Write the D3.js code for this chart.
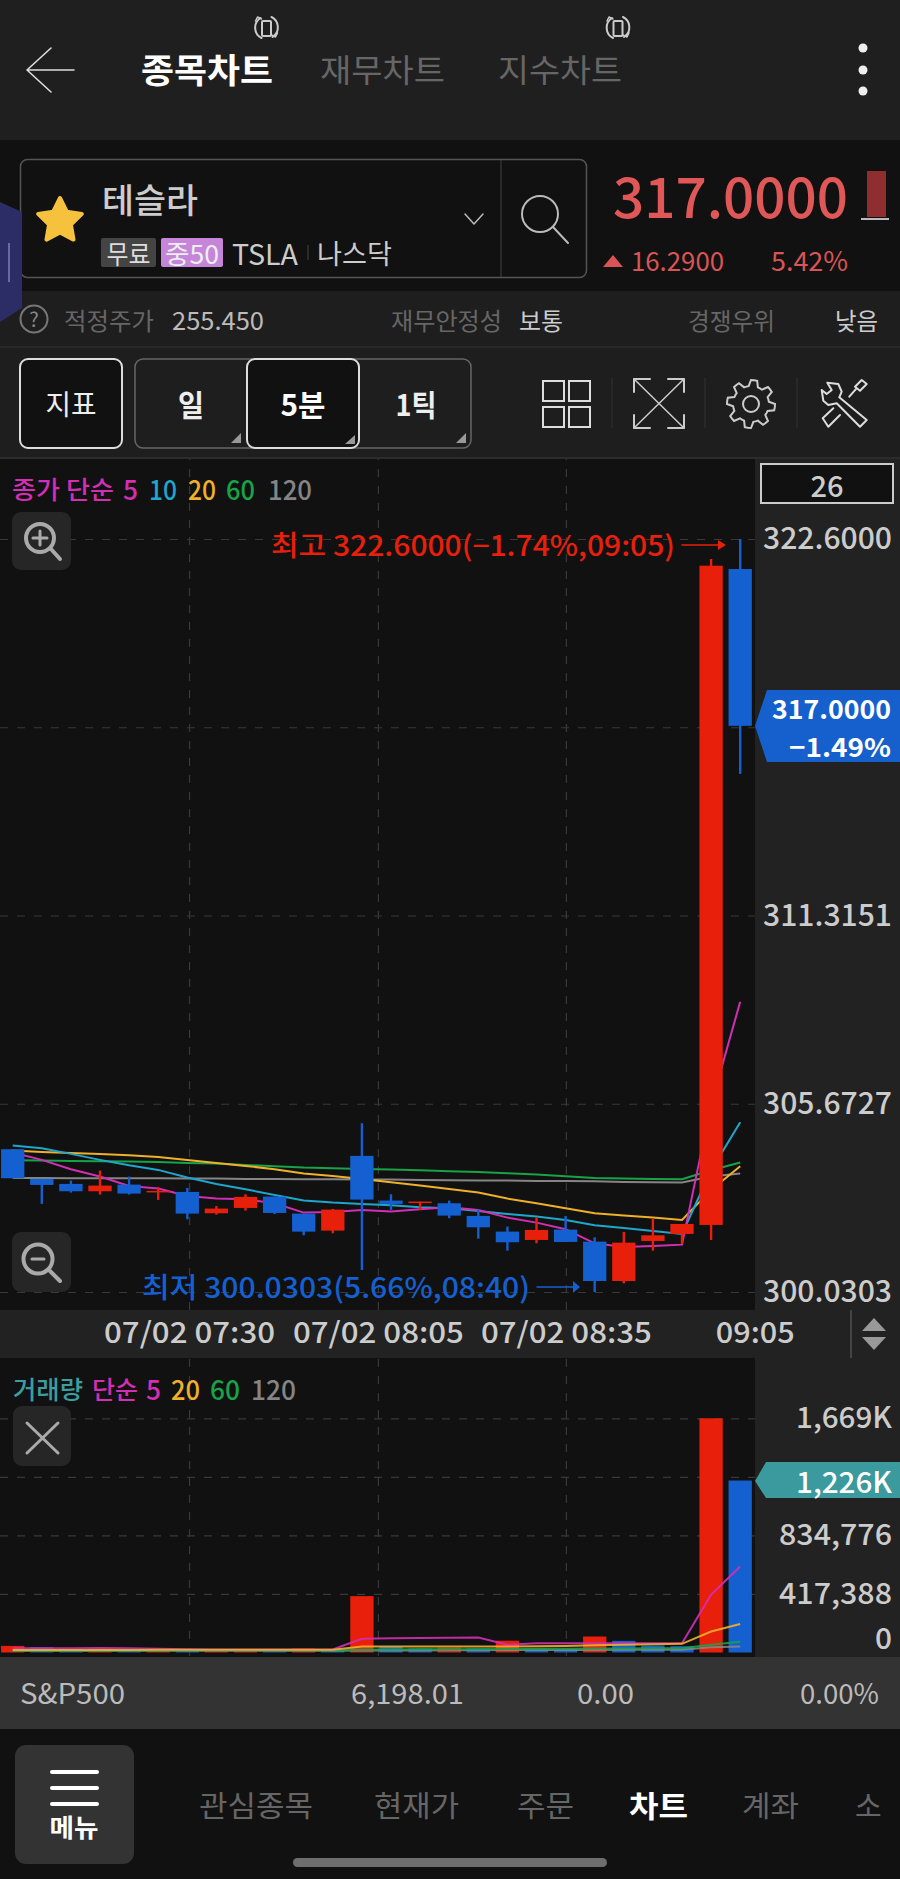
<!DOCTYPE html>
<html>
<head>
<meta charset="utf-8">
<script src="https://cdn.jsdelivr.net/npm/d3@7"></script>
<style>
  html, body { margin: 0; padding: 0; background: #111; }
  svg { display: block; font-family: "Noto Sans CJK KR", "Noto Sans", sans-serif; }
</style>
</head>
<body>
<div id="app"></div>
<script>
// candles, 5 min bars of TSLA
const opens  = [304.31,303.42,303.27,303.05,303.25,303.03,303.03,302.39,302.55,302.89,302.38,301.87,304.11,302.77,302.71,302.69,302.31,301.84,301.59,301.90,301.54,300.36,301.56,301.77,302.04,321.70];
const closes = [303.44,303.24,303.05,303.22,302.98,303.06,302.38,302.53,302.88,302.40,301.84,302.50,302.80,302.67,302.74,302.32,301.97,301.52,301.89,301.53,300.36,301.51,301.73,302.07,321.80,317.00];
const highs  = [304.31,303.42,303.37,303.67,303.49,303.17,303.15,302.61,302.96,302.89,302.38,302.52,305.09,302.96,302.74,302.77,302.51,301.99,302.27,302.31,301.67,301.83,302.23,302.07,322.00,322.60];
const lows   = [303.44,302.67,303.01,302.95,302.95,302.79,302.21,302.35,302.47,302.37,301.73,301.79,300.69,302.49,302.49,302.24,301.63,301.27,301.49,301.53,300.03,300.29,301.27,301.47,301.59,315.56];

const ma5   = [304.21,303.99,303.71,303.49,303.21,303.13,302.91,302.83,302.81,302.69,302.41,302.43,302.49,302.44,302.51,302.57,302.49,302.26,302.11,301.91,301.49,301.38,301.41,301.45,305.64,308.73];
const ma10  = [304.42,304.34,304.17,303.99,303.83,303.69,303.46,303.27,303.11,302.94,302.77,302.71,302.67,302.63,302.57,302.54,302.46,302.37,302.29,302.19,302.03,301.95,301.86,301.77,303.67,305.12];
const ma20  = [304.27,304.23,304.20,304.17,304.13,304.08,303.99,303.90,303.81,303.71,303.58,303.51,303.42,303.32,303.22,303.12,303.01,302.83,302.69,302.54,302.39,302.32,302.26,302.19,303.09,303.80];
const ma60  = [303.98,303.97,303.96,303.95,303.94,303.93,303.90,303.88,303.84,303.80,303.76,303.74,303.72,303.70,303.68,303.65,303.63,303.59,303.55,303.50,303.45,303.43,303.42,303.41,303.68,303.91];
const ma120 = [303.45,303.45,303.44,303.44,303.44,303.44,303.43,303.43,303.42,303.42,303.41,303.41,303.40,303.40,303.39,303.38,303.37,303.37,303.36,303.36,303.35,303.33,303.32,303.31,303.49,303.58];

const volumes = [47000,38000,24000,27000,20000,22000,20000,23000,25000,22000,28000,20000,402000,40000,30000,34000,30000,84000,28000,25000,114000,83000,50000,45000,1669552,1226000];
const volMa5   = [30000,30000,31000,32000,31000,27000,23000,22000,21000,22000,22000,22000,98000,102000,104000,105000,107000,55000,66000,66000,66000,66000,66000,66000,412000,613000];
const volMa20  = [17000,17000,18000,18000,18000,19000,19000,19000,19000,19000,19000,19000,43000,43000,43000,43000,43000,43000,45000,47000,52000,55000,58000,62000,150000,203000];
const volMa60  = [13000,13000,13000,13000,13000,14000,14000,14000,14000,14000,14000,14000,20000,22000,24000,24000,24000,25000,26000,27000,28000,29000,30000,31000,55000,76000];
const volMa120 = [11000,11000,11000,11000,12000,12000,12000,12000,12000,12000,12000,12000,14000,15000,15000,16000,16000,17000,17000,18000,18000,19000,19000,20000,38000,43000];

const priceTicks = [300.0303, 305.6727, 311.3151, 316.9575, 322.6];
const priceLabels = [300.0303, 305.6727, 311.3151, 322.6];
const volTicks = [417388, 834776, 1252164, 1669552];
const volLabels = [0, 417388, 834776, 1669552];
const timeTicks = [6.06, 12.55, 19.01, 25.5];
const timeLabels = ["07/02 07:30", "07/02 08:05", "07/02 08:35", "09:05"];

const RED = "#e81f0b", BLUE = "#1560d0";
const MAG = "#d22fb4", CYAN = "#1fa6cc", YEL = "#efb02a", GRN = "#17a348", GRY = "#858585", TEAL = "#3c9ea0";
const KR = "Noto Sans CJK KR";

const width = 900, height = 1879;
const svg = d3.select("#app").append("svg").attr("width", width).attr("height", height);

function box(x, y, w, h, fill, stroke, rx, sw) {
  return svg.append("rect").attr("x", x).attr("y", y).attr("width", w).attr("height", h)
    .attr("fill", fill).attr("stroke", stroke || "none").attr("stroke-width", sw || 1).attr("rx", rx || 0);
}
// len squeezes or stretches the text to the width it has in the screenshot
function label(s, x, y, size, fill, anchor, weight, len) {
  const t = svg.append("text").text(s).attr("x", x).attr("y", y).attr("font-size", size).attr("fill", fill)
    .attr("text-anchor", anchor || "start").attr("font-weight", weight || 400)
    .attr("dominant-baseline", "central");
  if (len) t.attr("textLength", len).attr("lengthAdjust", "spacingAndGlyphs");
  return t;
}
function stroke(d, color, w) {
  return svg.append("path").attr("d", d).attr("fill", "none").attr("stroke", color).attr("stroke-width", w || 2)
    .attr("stroke-linecap", "round").attr("stroke-linejoin", "round");
}

// page bands
box(0, 0, 900, 140, "#1f1f1f");
box(0, 140, 900, 151, "#111");
box(0, 291, 900, 168, "#1e1e1e");
svg.append("line").attr("x1", 0).attr("x2", 900).attr("y1", 347).attr("y2", 347).attr("stroke", "#333");
box(0, 457, 900, 2, "#2c2c2c");
box(0, 459, 755, 851, "#111");
box(755, 459, 145, 851, "#222");
box(0, 1310, 900, 48, "#222");
box(0, 1358, 755, 299, "#111");
box(755, 1358, 145, 299, "#222");
box(0, 1657, 900, 72, "#333");
box(0, 1729, 900, 150, "#111");

// header
stroke("M74 70H27M51 48L27 70L51 92", "#ddd", 1.6);
label("종목차트", 141, 68, 34, "#fff", "start", 700, 132);
label("재무차트", 320, 68, 32, "#666", "start", 400, 125);
label("지수차트", 498, 68, 32, "#666", "start", 400, 124);
[266.5, 618].forEach(cx => {
  stroke(`M${cx - 5} ${38}A11.5 11.5 0 0 1 ${cx - 6} ${18}`, "#ccc", 2);
  stroke(`M${cx + 5} ${17}A11.5 11.5 0 0 1 ${cx + 6} ${37}`, "#ccc", 2);
  stroke(`M${cx - 11} ${21}L${cx - 9} ${17}L${cx - 5} ${19}`, "#ccc", 1.5);
  stroke(`M${cx + 11} ${33}L${cx + 9} ${37}L${cx + 5} ${35}`, "#ccc", 1.5);
  box(cx - 4.5, 21, 9, 15, "none", "#ccc", 1, 2);
});
[48, 70, 91].forEach(y => svg.append("circle").attr("cx", 863).attr("cy", y).attr("r", 4.5).attr("fill", "#eee"));

// symbol box
box(20.5, 159.5, 566, 118, "#111", "#555", 7, 1.5);
svg.append("line").attr("x1", 501).attr("x2", 501).attr("y1", 160).attr("y2", 277).attr("stroke", "#444");
const starPts = d3.range(10).map(i => {
  const r = i % 2 ? 11.5 : 23, a = -Math.PI / 2 + i * Math.PI / 5;
  return [60 + r * Math.cos(a), 221 + r * Math.sin(a)];
});
svg.append("path").attr("d", d3.line().curve(d3.curveLinearClosed)(starPts)).attr("fill", "#f6c23e")
  .attr("stroke", "#f6c23e").attr("stroke-width", 4).attr("stroke-linejoin", "round");
label("테슬라", 102, 198, 34, "#ccc", "start", 500, 96);
box(101, 238, 55, 29, "#444", null, 2);
label("무료", 128.5, 252, 26, "#ddd", "middle", 400, 44);
box(161, 238, 62, 29, "#c585d8", null, 2);
label("중50", 192, 252, 26, "#eee", "middle", 400, 54);
label("TSLA", 232, 252, 29, "#ccc", "start", 400, 66);
svg.append("line").attr("x1", 308).attr("x2", 308).attr("y1", 245).attr("y2", 260).attr("stroke", "#444");
label("나스닥", 317, 252, 27, "#ccc", "start", 400, 75);
stroke("M465 214L474 224L483 214", "#bbb", 1.5);
svg.append("circle").attr("cx", 540).attr("cy", 214).attr("r", 18).attr("fill", "none").attr("stroke", "#bbb").attr("stroke-width", 2);
stroke("M553 227L568 243", "#bbb", 2);

// left tab
svg.append("path").attr("d", "M0 202L22 212V308L0 322Z").attr("fill", "#2c2c66");
svg.append("line").attr("x1", 9).attr("x2", 9).attr("y1", 243).attr("y2", 282).attr("stroke", "#6a6aa0").attr("stroke-width", 2);

// quote
label("317.0000", 613, 193, 56, "#e05757", "start", 500, 235);
box(867, 171, 19, 46, "#8f2e2e");
box(861, 218, 28, 2, "#bbb");
svg.append("path").attr("d", "M603 267L613 255L623 267Z").attr("fill", "#d95555");
label("16.2900", 631, 259, 27, "#d95555", "start", 400, 93);
label("5.42%", 848, 259, 27, "#d95555", "end", 400, 77);

// info row
svg.append("circle").attr("cx", 34).attr("cy", 319).attr("r", 13.5).attr("fill", "none").attr("stroke", "#777").attr("stroke-width", 2);
label("?", 34, 318, 20, "#888", "middle");
label("적정주가", 64, 319, 24, "#666", "start", 400, 90);
label("255.450", 172, 319, 25, "#bbb", "start", 400, 92);
label("재무안정성", 391, 319, 24, "#666", "start", 400, 111);
label("보통", 519, 319, 24, "#ccc", "start", 400, 44);
label("경쟁우위", 688, 319, 24, "#666", "start", 400, 87);
label("낮음", 835, 319, 24, "#ccc", "start", 400, 43);

// toolbar
box(20, 359, 102, 89, "#111", "#ddd", 8, 2);
label("지표", 71, 403, 28, "#eee", "middle", 400, 51);
box(135, 359, 336, 89, "#1e1e1e", "#666", 8, 1.5);
box(247, 359, 112, 89, "#111", "#ddd", 8, 2);
label("일", 191, 403, 30, "#eee", "middle", 700, 26);
label("5분", 303, 403, 30, "#fff", "middle", 700, 45);
label("1틱", 416, 403, 30, "#eee", "middle", 700, 41);
[[241, 433, 443], [355, 435, 444], [466, 433, 443]].forEach(t =>
  svg.append("path").attr("d", `M${t[0]} ${t[1]}V${t[2]}H${t[0] - 10}Z`).attr("fill", "#999"));
[[543, 381], [569, 381], [543, 407], [569, 407]].forEach(p => box(p[0], p[1], 21, 20, "none", "#ddd", 0, 2));
[612, 705, 797].forEach(x => svg.append("line").attr("x1", x).attr("x2", x).attr("y1", 378).attr("y2", 428).attr("stroke", "#333"));
stroke("M634 379L684 428M684 379L634 428", "#ccc", 1.5);
stroke("M634 392V379H650M668 379H684V392M634 415V428H650M668 428H684V415", "#ccc", 2);
const gearPts = d3.range(48).map(i => {
  const t = i % 6, r = (t < 3) ? 24 : 18, a = i / 48 * 2 * Math.PI;
  return [751 + r * Math.cos(a), 404 + r * Math.sin(a)];
});
svg.append("path").attr("d", d3.line().curve(d3.curveLinearClosed)(gearPts)).attr("fill", "none").attr("stroke", "#ccc").attr("stroke-width", 2);
svg.append("circle").attr("cx", 751).attr("cy", 404).attr("r", 8).attr("fill", "none").attr("stroke", "#ccc").attr("stroke-width", 2);
// wrench and screwdriver
stroke("M827.3 382.7L838.3 384L841.7 391.7L839.3 397.3L866.7 420L860 426.7L836.7 403.3L828.3 405L823.3 400.7L821.7 390L826.7 394L831.7 390Z", "#ddd", 2);
stroke("M855 386.7L861.7 380L866.7 384L860 390.7ZM855.7 389.3L849.3 396.7M833.3 408.3L822.7 418.3L828.3 426.7L840 415", "#ddd", 2);

// price panel
const xIdx = d3.scaleLinear().domain([0, 25]).range([12.7, 740.2]);
const yPrice = d3.scaleLinear().domain([300.0303, 322.6]).range([1292, 539]);
const yVol = d3.scaleLinear().domain([0, 1669552]).range([1652.5, 1418.3]);
const bodyW = 23.3, wickW = 2.4;

svg.append("defs").append("clipPath").attr("id", "plot").append("rect").attr("x", 0).attr("y", 459).attr("width", 755).attr("height", 851);
svg.select("defs").append("clipPath").attr("id", "volplot").append("rect").attr("x", 0).attr("y", 1358).attr("width", 755).attr("height", 298);

const plot = svg.append("g").attr("clip-path", "url(#plot)");
const gridStyle = g => {
  g.select(".domain").remove();
  g.selectAll("line").attr("stroke", "#383838").attr("stroke-width", 1.2).attr("stroke-dasharray", "8 9");
  g.selectAll("text").remove();
};
plot.append("g").call(d3.axisRight(yPrice).tickValues(priceTicks).tickSize(755)).call(gridStyle);
plot.append("g").attr("transform", "translate(0,1310)")
  .call(d3.axisTop(xIdx).tickValues(timeTicks.slice(0, 3)).tickSize(851)).call(gridStyle);

const maLine = y => d3.line().x((d, i) => xIdx(i)).y(d => y(d));
[[ma120, GRY], [ma60, GRN], [ma20, YEL], [ma10, CYAN], [ma5, MAG]].forEach(s =>
  plot.append("path").attr("d", maLine(yPrice)(s[0])).attr("fill", "none").attr("stroke", s[1]).attr("stroke-width", 2));

const candles = opens.map((o, i) => ({ i, o, c: closes[i], h: highs[i], l: lows[i] }));
const cColor = d => d.c >= d.o ? RED : BLUE;
plot.selectAll(".wick").data(candles).enter().append("line")
  .attr("x1", d => xIdx(d.i)).attr("x2", d => xIdx(d.i))
  .attr("y1", d => yPrice(d.h)).attr("y2", d => yPrice(d.l))
  .attr("stroke", cColor).attr("stroke-width", wickW);
plot.selectAll(".body").data(candles).enter().append("rect")
  .attr("x", d => xIdx(d.i) - bodyW / 2).attr("width", bodyW)
  .attr("y", d => yPrice(Math.max(d.o, d.c)))
  .attr("height", d => Math.max(1.5, Math.abs(yPrice(d.o) - yPrice(d.c))))
  .attr("fill", cColor);

// price axis labels
const axisText = (g, color, size, len) => {
  g.select(".domain").remove();
  g.selectAll("line").remove();
  g.selectAll("text").attr("fill", color).attr("font-size", size).attr("font-family", KR).attr("font-weight", 500)
    .attr("textLength", len).attr("lengthAdjust", "spacingAndGlyphs");
};
svg.append("g").attr("transform", "translate(892,0)")
  .call(d3.axisLeft(yPrice).tickValues(priceLabels).tickSize(0).tickPadding(0).tickFormat(d3.format(".4f")))
  .call(axisText, "#ccc", 30, () => 129);

// legend of price panel
label("종가 단순", 12, 488, 25, MAG, "start", 500, 102);
label("5", 123, 488, 27, MAG, "start", 500, 15);
label("10", 149, 488, 27, CYAN, "start", 500, 28);
label("20", 188, 488, 27, YEL, "start", 500, 28);
label("60", 226, 488, 27, GRN, "start", 500, 29);
label("120", 268, 488, 27, GRY, "start", 500, 44);

box(761, 464, 132, 39, "#111", "#ccc", 0, 2);
label("26", 827, 484, 29, "#ccc", "middle", 500);

// zoom buttons
box(12, 512, 59, 58, "#262626", null, 9);
svg.append("circle").attr("cx", 40).attr("cy", 538).attr("r", 14).attr("fill", "none").attr("stroke", "#aaa").attr("stroke-width", 4);
stroke("M33 538H47M40 531V545", "#aaa", 3);
stroke("M51 549L60 559", "#aaa", 4);
box(12, 1232, 59, 60, "#262626", null, 9);
svg.append("circle").attr("cx", 38).attr("cy", 1259).attr("r", 14.5).attr("fill", "none").attr("stroke", "#aaa").attr("stroke-width", 4);
stroke("M32 1259H44", "#aaa", 3);
stroke("M50 1271L60 1281", "#aaa", 4);

// high / low notes
label("최고 322.6000(−1.74%,09:05)", 271, 544, 28, RED, "start", 500, 404);
stroke("M682 545H718", RED, 1.5);
svg.append("path").attr("d", "M718 540L726 545L718 550Z").attr("fill", RED);
label("최저 300.0303(5.66%,08:40)", 142, 1286, 28, BLUE, "start", 500, 388);
stroke("M537 1287H573", BLUE, 1.5);
svg.append("path").attr("d", "M573 1281L580 1287L573 1293Z").attr("fill", BLUE);

// last price tag
svg.append("path").attr("d", "M755 726L767 690H900V762H767Z").attr("fill", "#1560cc");
label("317.0000", 891, 707, 26, "#fff", "end", 700, 119);
label("−1.49%", 891, 745, 26, "#fff", "end", 700, 102);

// time axis
svg.append("g").attr("transform", "translate(0,1310)")
  .call(d3.axisBottom(xIdx).tickValues(timeTicks).tickSize(0).tickPadding(0).tickFormat((d, i) => timeLabels[i]))
  .call(axisText, "#ccc", 29, (d, i) => i === 3 ? 79 : 171)
  .call(g => g.selectAll("text").attr("y", 23).attr("dy", "0.35em"));
svg.append("line").attr("x1", 851).attr("x2", 851).attr("y1", 1310).attr("y2", 1358).attr("stroke", "#666");
svg.append("path").attr("d", "M862 1331L874 1318L886 1331Z").attr("fill", "#999");
svg.append("path").attr("d", "M862 1337L874 1350L886 1337Z").attr("fill", "#999");

// volume panel
const vplot = svg.append("g").attr("clip-path", "url(#volplot)");
vplot.append("g").call(d3.axisRight(yVol).tickValues(volTicks).tickSize(755)).call(gridStyle);
vplot.append("g").attr("transform", "translate(0,1656)")
  .call(d3.axisTop(xIdx).tickValues(timeTicks.slice(0, 3)).tickSize(298)).call(gridStyle);
vplot.selectAll(".vbar").data(volumes).enter().append("rect")
  .attr("x", (d, i) => xIdx(i) - bodyW / 2).attr("width", bodyW)
  .attr("y", d => yVol(d)).attr("height", d => yVol(0) - yVol(d))
  .attr("fill", (d, i) => (i === 0 || d >= volumes[i - 1]) ? RED : BLUE);
[[volMa120, GRY], [volMa60, GRN], [volMa5, MAG], [volMa20, YEL]].forEach(s =>
  vplot.append("path").attr("d", maLine(yVol)(s[0])).attr("fill", "none").attr("stroke", s[1]).attr("stroke-width", 2).attr("opacity", 0.9));

label("거래량", 13, 1388, 25, TEAL, "start", 500, 70);
label("단순", 92, 1388, 25, MAG, "start", 500, 46);
label("5", 146, 1388, 27, MAG, "start", 500, 15);
label("20", 171, 1388, 27, YEL, "start", 500, 29);
label("60", 210, 1388, 27, GRN, "start", 500, 30);
label("120", 251, 1388, 27, GRY, "start", 500, 45);

box(13, 1406, 58, 60, "#262626", null, 9);
stroke("M27 1423L58 1453M58 1423L27 1453", "#aaa", 3);

const volFmt = d => d >= 1000000 ? "1,669K" : d3.format(",")(d);
svg.append("g").attr("transform", "translate(892,0)")
  .call(d3.axisLeft(yVol).tickValues(volLabels).tickSize(0).tickPadding(0).tickFormat(volFmt))
  .call(axisText, "#ccc", 29, d => d === 0 ? 17 : d >= 1000000 ? 96 : 113)
  .call(g => g.selectAll(".tick").filter(d => d === 0).attr("transform", "translate(0,1640)"));

svg.append("path").attr("d", "M755 1481L766 1462H900V1498H766Z").attr("fill", "#3a9a9e");
label("1,226K", 892, 1480, 29, "#fff", "end", 500, 96);

// index row
label("S&P500", 20, 1692, 28, "#bbb", "start", 400, 105);
label("6,198.01", 351, 1692, 28, "#bbb", "start", 400, 113);
label("0.00", 577, 1692, 28, "#bbb", "start", 400, 57);
label("0.00%", 879, 1692, 28, "#bbb", "end", 400, 79);

// bottom nav
box(15, 1745, 119, 119, "#333", null, 11);
[1772, 1788, 1804].forEach(y => stroke(`M52 ${y}H97`, "#fff", 4));
label("메뉴", 74, 1826, 25, "#fff", "middle", 700, 49);
label("관심종목", 199, 1804, 29, "#666", "start", 400, 114);
label("현재가", 374, 1804, 29, "#666", "start", 400, 85);
label("주문", 517, 1804, 29, "#666", "start", 400, 57);
label("차트", 629, 1804, 30, "#fff", "start", 700, 59);
label("계좌", 742, 1804, 29, "#666", "start", 400, 57);
svg.select("defs").append("clipPath").attr("id", "navclip").append("rect").attr("x", 840).attr("y", 1780).attr("width", 44).attr("height", 50);
label("소", 855, 1804, 29, "#666").attr("clip-path", "url(#navclip)");
box(293, 1858, 314, 9, "#6e6e6e", null, 4.5);
</script>
</body>
</html>
